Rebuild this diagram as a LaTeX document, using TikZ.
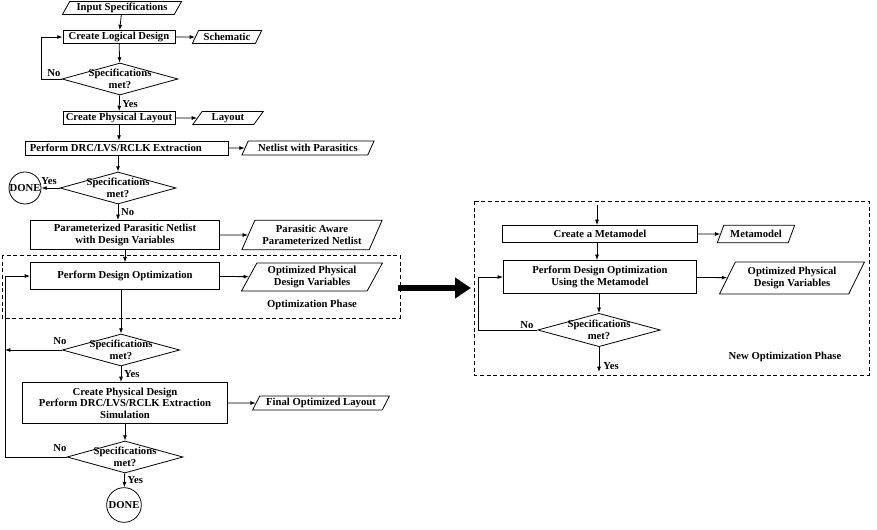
\documentclass[tikz,border=0pt]{standalone}
\usepackage{fontspec}
\setmainfont{Liberation Serif}
\usetikzlibrary{shapes.geometric,arrows.meta}
\begin{document}
\begin{tikzpicture}[x=0.75pt,y=-0.75pt,
  every node/.style={font=\bfseries\fontsize{8}{8.6}\selectfont,align=center,inner sep=1pt},
  box/.style={draw,semithick,rectangle},
  data/.style={draw,semithick,trapezium,trapezium left angle=62,trapezium right angle=118,trapezium stretches=true},
  dec/.style={draw,semithick,diamond,aspect=3.6,inner sep=-2.5pt},
  term/.style={draw,semithick,circle,inner sep=0pt},
  lab/.style={font=\bfseries\fontsize{8}{8.6}\selectfont},
  arr/.style={semithick,-{Latex[length=4pt,width=3pt]}},
  ln/.style={semithick},
  dbox/.style={semithick,dash pattern=on 3pt off 2pt}]
\useasboundingbox (0,0) rectangle (877,530);
% left column
\node[data,minimum width=90pt,minimum height=9.75pt] (in) at (122,8) {Input Specifications};
\node[box,minimum width=84pt,minimum height=9.75pt] (cld) at (119,37) {Create Logical Design};
\node[data,minimum width=52pt,minimum height=9.75pt] (sch) at (227,37) {Schematic};
\node[dec,minimum width=87pt,minimum height=24pt] (d1) at (120,79) {Specifications\\met?};
\node[box,minimum width=84pt,minimum height=9.75pt] (cpl) at (119,118) {Create Physical Layout};
\node[data,minimum width=53pt,minimum height=9.75pt] (lay) at (228,118) {Layout};
\node[box,minimum width=151pt,minimum height=10.5pt] (drc) at (127,148) {\hspace*{0.3em}Perform DRC/LVS/RCLK Extraction\hspace*{2.4em}};
\node[data,minimum width=100pt,minimum height=10.5pt] (net) at (308,148) {Netlist with Parasitics};
\node[dec,minimum width=87pt,minimum height=24pt] (d2) at (118,188) {Specifications\\met?};
\node[term,minimum size=24pt] (done1) at (25,188) {DONE};
\node[box,minimum width=142pt,minimum height=22pt] (par) at (125,235) {Parameterized Parasitic Netlist\\with Design Variables};
\node[data,minimum width=106pt,minimum height=22pt] (paw) at (312,235) {Parasitic Aware\\Parameterized Netlist};
\draw[dbox] (2,255) rectangle (400,318);
\node[box,minimum width=142pt,minimum height=20pt] (pdo) at (125,276) {Perform Design Optimization};
\node[data,minimum width=106pt,minimum height=21pt] (opv) at (312,277) {Optimized Physical\\Design Variables};
\node[lab] (oph) at (312,305) {Optimization Phase};
\node[dec,minimum width=88pt,minimum height=24pt] (d3) at (121,350) {Specifications\\met?};
\node[box,minimum width=154pt,minimum height=31pt] (cpd) at (125,403) {Create Physical Design\\Perform DRC/LVS/RCLK Extraction\\Simulation};
\node[data,minimum width=103pt,minimum height=10.5pt] (fol) at (321,403) {Final Optimized Layout};
\node[dec,minimum width=87pt,minimum height=24pt] (d4) at (125,457) {Specifications\\met?};
\node[term,minimum size=26pt] (done2) at (124,505) {DONE};
% left connectors
\draw[arr] (in) -- (cld);
\draw[arr] (cld) -- (sch);
\draw[arr] (cld) -- (d1);
\coordinate (l1a) at (41,79); \coordinate (l1b) at (41,37);
\draw[arr] (d1.west) -- (l1a) -- (l1b) -- (cld.west);
\node[lab] at (54,73) {No};
\draw[arr] (d1) -- (cpl) node[lab,pos=0.55,right=1pt] {Yes};
\draw[arr] (cpl) -- (lay);
\draw[arr] (cpl) -- (cpl|-drc.north);
\draw[arr] (drc) -- (net);
\draw[arr] (d2.north|-drc.south) -- (d2);
\draw[arr] (d2) -- (done1);
\node[lab] at (49,181) {Yes};
\draw[arr] (d2) -- (d2|-par.north) node[lab,pos=0.5,right=1pt] {No};
\draw[arr] (par) -- (paw);
\draw[arr] (par) -- (pdo);
\draw[arr] (pdo) -- (opv);
\draw[arr] (pdo.south-|d3) -- (d3);
\coordinate (lp1) at (5,350); \coordinate (lp2) at (5,457); \coordinate (lp3) at (5,276);
\draw[arr] (d3.west) -- (lp1);
\node[lab] at (60,341) {No};
\draw[arr] (d3) -- (d3|-cpd.north) node[lab,pos=0.5,right=1pt] {Yes};
\draw[arr] (cpd) -- (fol);
\draw[arr] (cpd.south-|d4) -- (d4);
\draw[ln] (d4.west) -- (lp2) -- (lp1);
\draw[arr] (lp1) -- (lp3) -- (pdo.west);
\node[lab] at (60,448) {No};
\draw[arr] (d4) -- (done2) node[lab,pos=0.45,right=1pt] {Yes};
% big arrow
\coordinate (ba1) at (398,288); \coordinate (ba2) at (471,288);
\draw[line width=4.5pt,-{Triangle[length=12pt,width=15pt]}] (ba1) -- (ba2);
% right box
\draw[dbox] (474,201) rectangle (869,375);
\coordinate (rt) at (597,205);
\node[box,minimum width=146pt,minimum height=13pt] (cm) at (600,234) {Create a Metamodel};
\node[data,minimum width=58pt,minimum height=13pt] (mm) at (756,234) {Metamodel};
\node[box,minimum width=145pt,minimum height=25pt] (pdm) at (600,277) {Perform Design Optimization\\Using the Metamodel};
\node[data,minimum width=109pt,minimum height=24pt] (opv2) at (792,278) {Optimized Physical\\Design Variables};
\node[dec,minimum width=92pt,minimum height=25pt] (d5) at (599,330) {Specifications\\met?};
\node[lab] at (785,357) {New Optimization Phase};
\coordinate (ry) at (599,372); \coordinate (rl1) at (478,330); \coordinate (rl2) at (478,277);
\draw[arr] (rt) -- (rt|-cm.north);
\draw[arr] (cm) -- (mm);
\draw[arr] (cm.south-|rt) -- (rt|-pdm.north);
\draw[arr] (pdm) -- (opv2);
\draw[arr] (pdm.south-|d5) -- (d5);
\draw[arr] (d5.west) -- (rl1) -- (rl2) -- (pdm.west);
\node[lab] at (527,325) {No};
\draw[arr] (d5) -- (ry);
\node[lab] at (611,366) {Yes};
\end{tikzpicture}
\end{document}
